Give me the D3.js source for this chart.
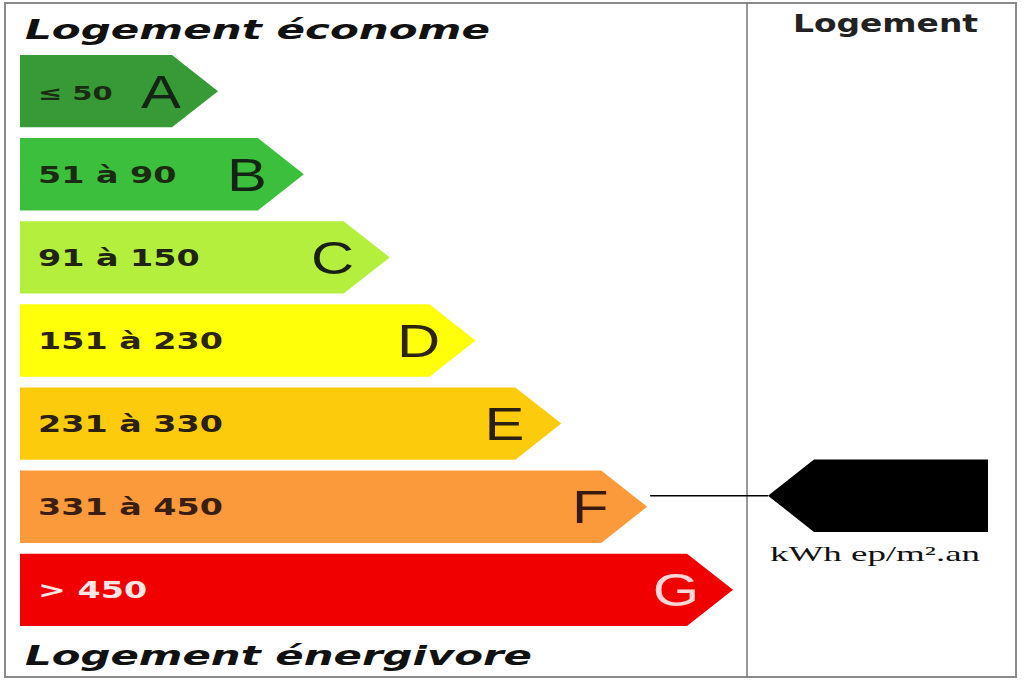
<!DOCTYPE html>
<html><head><meta charset="utf-8">
<script src="https://cdn.jsdelivr.net/npm/d3@7"></script>
<style>html,body{margin:0;padding:0;background:#fff;overflow:hidden}</style>
</head><body>
<svg id="c" width="1024" height="683"></svg>
<script>
const classes = ["A","B","C","D","E","F","G"];
const ranges = ["≤ 50","51 à 90","91 à 150","151 à 230","231 à 330","331 à 450","> 450"];
const classColors = ["#379a37","#3cbf3c","#b4ef3e","#ffff0a","#fccb0c","#fa9a3a","#f00000"];
const labelColors = ["#1c2a12","#1c2a12","#1e2410","#2a2410","#2a2010","#3a1e10","#ffe6e6"];
const letterColors = ["#142414","#142414","#1a2010","#2a2410","#2a2010","#3a1a10","#ffd6d6"];
const current = "F";
const titleTop = "Logement économe";
const titleBottom = "Logement énergivore";
const panelTitle = "Logement";
const unit = "kWh ep/m².an";

const svg = d3.select("#c");
const y = d3.scaleBand().domain(classes).range([55, 626]).paddingInner(0.13);
const tipX = d3.scaleLinear().domain([0, classes.length - 1]).range([218, 733]);
const color = d3.scaleOrdinal().domain(classes).range(classColors);
const x0 = 20, tipDepth = 46, bw = y.bandwidth();

// frame
svg.append("rect").attr("x",5).attr("y",3).attr("width",1011).attr("height",674)
  .attr("fill","none").attr("stroke","#8a8a8a").attr("stroke-width",2);
svg.append("line").attr("x1",747).attr("x2",747).attr("y1",3).attr("y2",677)
  .attr("stroke","#777").attr("stroke-width",1.5);

// titles
svg.append("text").attr("x",25).attr("y",39).text(titleTop)
  .attr("font-family","DejaVu Sans").attr("font-weight","bold").attr("font-style","italic")
  .attr("font-size",26).attr("fill","#111").attr("textLength",465).attr("lengthAdjust","spacingAndGlyphs");
svg.append("text").attr("x",25).attr("y",665).text(titleBottom)
  .attr("font-family","DejaVu Sans").attr("font-weight","bold").attr("font-style","italic")
  .attr("font-size",26).attr("fill","#111").attr("textLength",507).attr("lengthAdjust","spacingAndGlyphs");

// bars
const g = svg.selectAll("g.bar").data(classes).join("g").attr("class","bar");
g.append("path")
  .attr("d",(d,i)=>{
    const t = y(d), b = t + bw, tx = tipX(i);
    return `M${x0},${t}L${tx-tipDepth},${t}L${tx},${t+bw/2}L${tx-tipDepth},${b}L${x0},${b}Z`;
  })
  .attr("fill", d=>color(d));
g.append("text")
  .attr("transform",(d)=>`translate(38,${y(d)+bw/2+8.5}) scale(1.45,1)`)
  .text((d,i)=>ranges[i])
  .attr("font-family","DejaVu Sans").attr("font-weight","bold")
  .attr("font-size",(d,i)=> i===0 ? 20 : 23)
  .attr("fill",(d,i)=>labelColors[i]);
g.append("text")
  .attr("transform",(d,i)=>`translate(${tipX(i)-57},${y(d)+bw/2+16.5}) scale(1.3,1)`)
  .attr("text-anchor","middle")
  .text(d=>d)
  .attr("font-family","Liberation Sans").attr("font-size",46)
  .attr("fill",(d,i)=>letterColors[i]);

// right panel
svg.append("text").attr("x",793).attr("y",32).text(panelTitle)
  .attr("font-family","DejaVu Sans").attr("font-weight","bold").attr("font-size",24)
  .attr("fill","#222").attr("textLength",185).attr("lengthAdjust","spacingAndGlyphs");

const ci = classes.indexOf(current);
const py = y(current) + bw/2 - 11;
svg.append("line").attr("x1",tipX(ci)+3).attr("x2",768).attr("y1",py).attr("y2",py)
  .attr("stroke","#000").attr("stroke-width",1.5);
svg.append("path")
  .attr("d",`M768,${py}L${768+tipDepth},${py-bw/2}L988,${py-bw/2}L988,${py+bw/2}L${768+tipDepth},${py+bw/2}Z`)
  .attr("fill","#000");
svg.append("text").attr("x",770).attr("y",py+65).text(unit)
  .attr("font-family","Liberation Serif").attr("font-size",22).attr("fill","#111")
  .attr("textLength",210).attr("lengthAdjust","spacingAndGlyphs");
</script>
</body></html>
